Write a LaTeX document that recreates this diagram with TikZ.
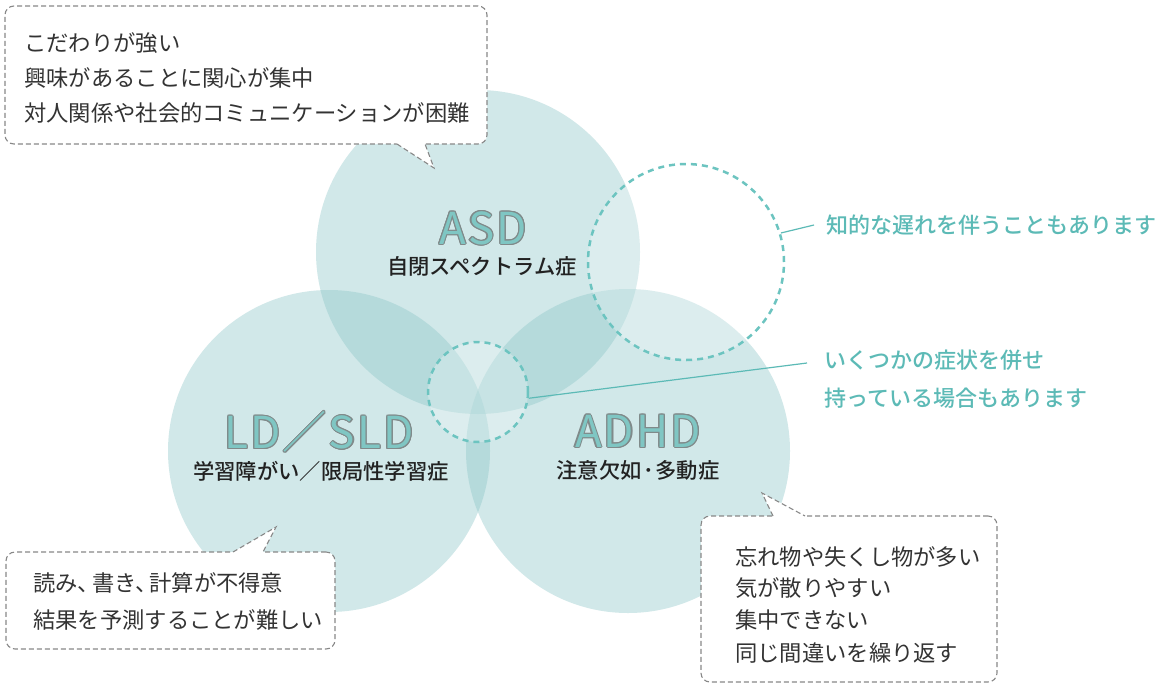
\documentclass[tikz,border=0pt]{standalone}
\usepackage{fontspec}
\setmainfont{Noto Sans CJK JP}
\newfontfamily\jpmed{Noto Sans CJK JP Medium}
\newfontfamily\jpbig{Noto Sans CJK JP}[LetterSpace=5]
\usetikzlibrary{calc}
\definecolor{circc}{RGB}{140,198,200}
\definecolor{dashc}{RGB}{108,196,192}
\definecolor{tealtxt}{RGB}{92,186,182}
\definecolor{labfill}{RGB}{127,198,195}
\definecolor{outl}{RGB}{128,138,138}
\definecolor{boxline}{RGB}{136,136,136}
\definecolor{boxtxt}{RGB}{51,51,51}
\definecolor{subtxt}{RGB}{34,34,34}
\begin{document}
\begin{tikzpicture}[x=1pt,y=-1pt,
  venn/.style={circle,inner sep=0pt,minimum size=#1,fill=circc,fill opacity=0.4},
  dcirc/.style={circle,inner sep=0pt,minimum size=#1,draw=dashc,line width=2.5pt,
     dash pattern=on 6pt off 5pt,fill=white,fill opacity=0.25},
  callbox/.style={rectangle,inner sep=0pt,rounded corners=9pt,draw=boxline,fill=white,
     line width=1.1pt,dash pattern=on 5pt off 3pt},
  tailline/.style={draw=boxline,line width=1.1pt,dash pattern=on 5pt off 3pt},
  boxtext/.style={anchor=west,inner sep=0pt,font=\fontsize{22.3}{26}\selectfont,text=boxtxt},
  sublab/.style={inner sep=0pt,font=\jpmed\fontsize{21.3}{25}\selectfont,text=subtxt},
  tealtext/.style={anchor=west,inner sep=0pt,font=\jpmed\fontsize{22}{26}\selectfont,text=tealtxt},
  bigfont/.style={inner sep=0pt,font=\jpbig\fontsize{44}{48}\selectfont},
  conn/.style={draw=tealtxt,line width=1.2pt}
]
\useasboundingbox (0,0) rectangle (1172,691);
\fill[white] (0,0) rectangle (1172,691);

% main circles
\node[venn=324pt] (asd) at (478,252) {};
\node[venn=322pt] (ld) at (329,451) {};
\node[venn=324pt] (adhd) at (628,451) {};

% dashed circles
\node[dcirc=196pt] (dcr) at (686,262) {};
\node[dcirc=100pt] (dcs) at (478,392) {};

% big labels with outline
\newcommand\biglab[3]{%
  \foreach \a in {0,30,...,330}
    \node[bigfont,text=outl] (#1-\a) at ([shift={(\a:1.1pt)}]#2) {#3};
  \node[bigfont,text=labfill] (#1) at (#2) {#3};}
\biglab{lasd}{483,228}{ASD}
\biglab{lld}{319,432}{LD／SLD}
\biglab{ladhd}{638,431}{ADHD}

\node[sublab] (sasd) at (482,266) {自閉スペクトラム症};
\node[sublab] (sld) at (321,471) {学習障がい／限局性学習症};
\node[sublab] (sadhd) at (638,470) {注意欠如\kern1.5pt･\kern1.5pt 多動症};

% callout boxes
\node[callbox,minimum width=482pt,minimum height=138pt] (b1) at (246,75) {};
\fill[white] (396,140) -- (397,144) -- (434,168) -- (425,144) -- (426,140) -- cycle;
\draw[tailline] (397,144) -- (434,168) -- (425,144);

\node[callbox,minimum width=329pt,minimum height=97pt] (b2) at (170.5,600.5) {};
\fill[white] (232,556) -- (233,552) -- (276,527) -- (263,552) -- (264,556) -- cycle;
\draw[tailline] (233,552) -- (276,527) -- (263,552);

\node[callbox,minimum width=296pt,minimum height=166pt] (b3) at (849,599) {};
\fill[white] (772,520) -- (773,516) -- (762,493) -- (805,516) -- (806,520) -- cycle;
\draw[tailline] (773,516) -- (762,493) -- (805,516);

\node[boxtext] (b1l1) at (24,43) {こだわりが強い};
\node[boxtext] (b1l2) at (24,78) {興味があることに関心が集中};
\node[boxtext] (b1l3) at (24,113) {対人関係や社会的コミュニケーションが困難};

\node[boxtext] (b2l1) at (33,583) {読み、\kern-8pt 書き、\kern-8pt 計算が不得意};
\node[boxtext] (b2l2) at (33,620) {結果を予測することが難しい};

\node[boxtext] (b3l1) at (735,557) {忘れ物や失くし物が多い};
\node[boxtext] (b3l2) at (735,588) {気が散りやすい};
\node[boxtext] (b3l3) at (735,620) {集中できない};
\node[boxtext] (b3l4) at (735,653) {同じ間違いを繰り返す};

% teal notes
\node[tealtext] (t1) at (826,225) {知的な遅れを伴うこともあります};
\node[tealtext] (t2) at (824,360) {いくつかの症状を併せ};
\node[tealtext] (t3) at (824,398) {持っている場合もあります};

\draw[conn] (dcr.17) -- ([xshift=-12pt]t1.west);
\draw[conn] (dcs.-7) -- ([xshift=-17pt,yshift=-3pt]t2.west);
\end{tikzpicture}
\end{document}
